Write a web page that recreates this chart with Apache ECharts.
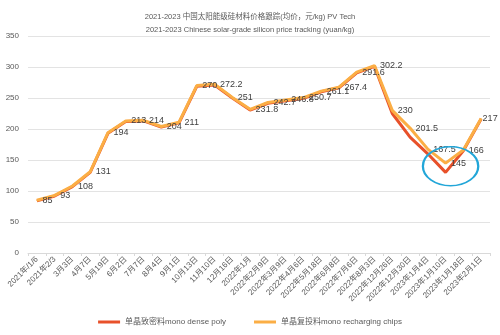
<!DOCTYPE html>
<html><head><meta charset="utf-8">
<script src="https://cdn.jsdelivr.net/npm/echarts@6/dist/echarts.min.js"></script>
<style>html,body{margin:0;padding:0;background:#fff}#c{width:500px;height:335px}</style>
</head><body><div id="c"></div>
<script>
const categories = ['2021年/1/6','2021年2/3','3月3日','4月7日','5月19日','6月2日','7月7日','8月4日','9月1日','10月13日','11月10日','12月16日','2022年1月','2022年2月9日','2022年3月9日','2022年4月6日','2022年5月18日','2022年6月8日','2022年7月6日','2022年8月3日','2022年12月26日','2022年12月30日','2023年1月4日','2023年1月10日','2023年1月18日','2023年2月1日'];
const monoDense = [84, 92, 107, 130, 193, 212, 213, 203, 210, 269, 271, 250, 230.5, 241.5, 245.5, 249.5, 260, 266.5, 290.5, 301, 225, 187, 160, 130, 165, 216];
const monoRecharge = [85, 93, 108, 131, 194, 213, 214, 204, 211, 270, 272.2, 251, 231.8, 242.7, 246.8, 250.7, 261.1, 267.4, 291.6, 302.2, 230, 201.5, 167.5, 145, 166, 217];
const yTicks = [0, 50, 100, 150, 200, 250, 300, 350];
const seriesNames = ['单晶致密料mono dense poly', '单晶复投料mono recharging chips'];
const titleLines = ['2021-2023 中国太阳能级硅材料价格跟踪(均价，元/kg) PV Tech', '2021-2023 Chinese solar-grade silicon price tracking (yuan/kg)'];

const FONT = 'Liberation Sans, Noto Sans CJK SC, sans-serif';
const rechargeData = monoRecharge.map((v, i) =>
  i === monoRecharge.length - 1 ? { value: v, label: { distance: 1 } } : v);
const chart = echarts.init(document.getElementById('c'));
chart.setOption({
  animation: false,
  textStyle: { fontFamily: FONT },
  title: {
    text: titleLines.join('\n'), left: 'center', top: 5,
    textStyle: { fontSize: 7.5, fontWeight: 'normal', color: '#595959', lineHeight: 13, fontFamily: FONT }
  },
  grid: { left: 28, right: 10, top: 36, bottom: 82 },
  legend: {
    bottom: 4, left: 'center', itemWidth: 22, itemHeight: 3, itemGap: 28,
    icon: 'rect',
    textStyle: { fontSize: 8, color: '#595959', fontFamily: FONT },
    data: seriesNames
  },
  xAxis: {
    type: 'category', data: categories, boundaryGap: true,
    axisLine: { lineStyle: { color: '#d9d9d9' } },
    axisTick: { show: true, length: 3, lineStyle: { color: '#d9d9d9' } },
    axisLabel: { rotate: 45, interval: 0, fontSize: 8, color: '#595959', margin: 5, fontFamily: FONT }
  },
  yAxis: {
    type: 'value', min: yTicks[0], max: yTicks[yTicks.length - 1], interval: 50,
    axisLine: { show: false }, axisTick: { show: false },
    splitLine: { lineStyle: { color: '#e3e3e3' } },
    axisLabel: { fontSize: 8, color: '#595959', margin: 9, fontFamily: FONT }
  },
  series: [
    {
      name: seriesNames[0], type: 'line', data: monoDense, symbol: 'none',
      lineStyle: { width: 3, color: '#E8512A' }, itemStyle: { color: '#E8512A' }, z: 2
    },
    {
      name: seriesNames[1], type: 'line', data: rechargeData, symbol: 'circle', symbolSize: 1, showSymbol: true,
      showAllSymbol: true,
      lineStyle: { width: 3, color: '#FBAE45' }, itemStyle: { color: '#FBAE45' }, z: 3,
      label: { show: true, position: 'right', distance: 5, offset: [0, 4], fontSize: 9, color: '#404040', fontFamily: FONT },
      labelLayout: { hideOverlap: false }
    }
  ]
});
// annotation ellipse around the January 2023 dip
const p = chart.convertToPixel({ gridIndex: 0 }, [23, 140]);
chart.setOption({
  graphic: [{
    type: 'circle', shape: { cx: 0, cy: 0, r: 19.5 }, x: p[0] + 5, y: p[1], scaleX: 1.42, scaleY: 1,
    style: { fill: 'none', stroke: '#22A6D8', lineWidth: 1.6 }, z: 10
  }]
});
</script></body></html>
